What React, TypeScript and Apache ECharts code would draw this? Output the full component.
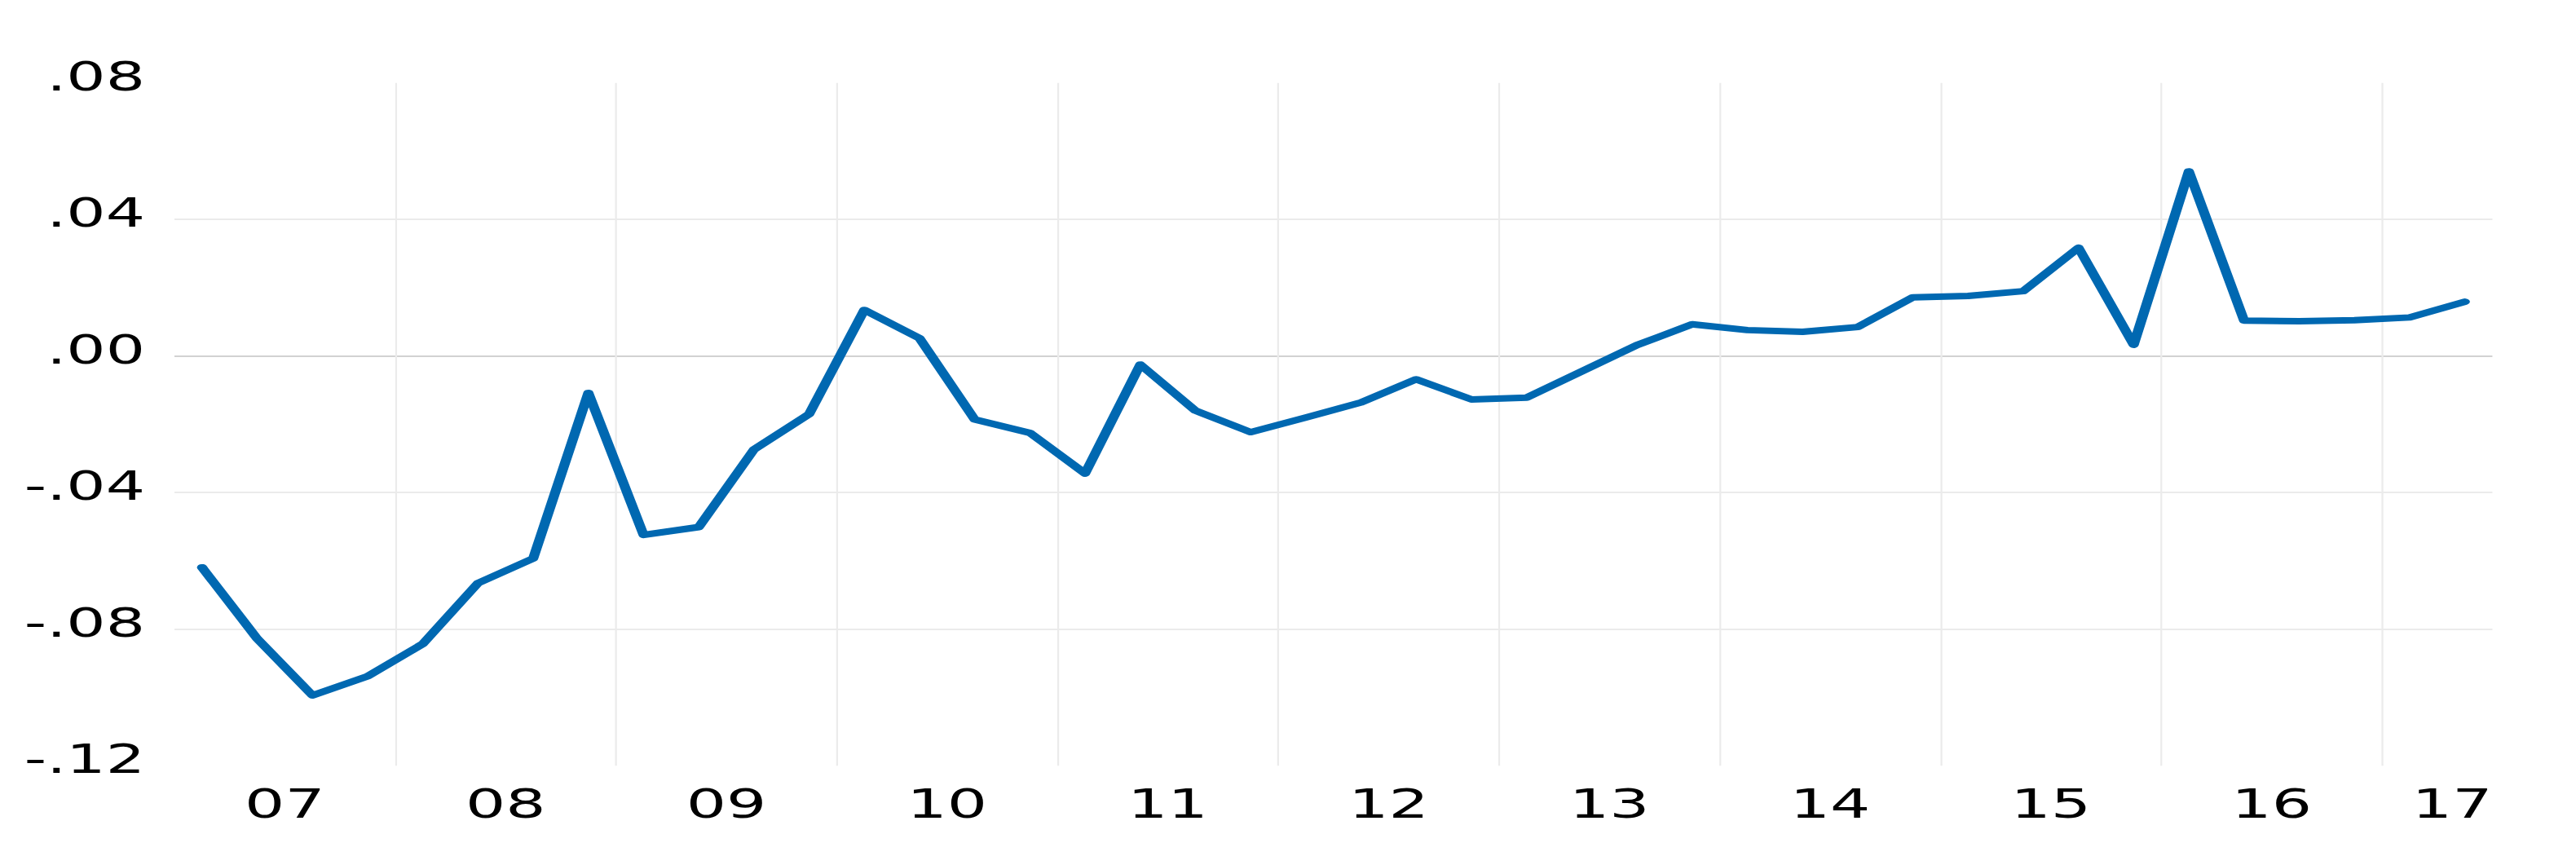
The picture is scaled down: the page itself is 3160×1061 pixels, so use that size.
import React, { useEffect, useRef } from "react";
import * as echarts from "echarts";

// Quarterly observations, 2007Q1 .. 2017Q2
const quarters: string[] = [];
for (let y = 2007; y <= 2017; y++) for (let q = 1; q <= 4; q++) if (!(y === 2017 && q > 2)) quarters.push(`${y}Q${q}`);

const values: number[] = [
  -0.0619, -0.0828, -0.0994, -0.0938,
  -0.0843, -0.0665, -0.0593, -0.0108,
  -0.0524, -0.0501, -0.0274, -0.0170,
  0.0135, 0.0052, -0.0186, -0.0225,
  -0.0344, -0.0025, -0.0160, -0.0223,
  -0.0180, -0.0136, -0.0068, -0.0127,
  -0.0122, -0.0045, 0.0032, 0.0093,
  0.0076, 0.0071, 0.0085, 0.0172,
  0.0176, 0.0190, 0.0317, 0.0033,
  0.0541, 0.0104, 0.0102, 0.0105,
  0.0113, 0.0159,
];

const yearLabels: string[] = ["07", "08", "09", "10", "11", "12", "13", "14", "15", "16", "17"];
const yTicks: number[] = [-0.12, -0.08, -0.04, 0, 0.04, 0.08];

const S = 1.55; // horizontal stretch of the original picture
const W = 3160 / S;
const H = 1061;

function fmtY(v: number): string {
  const n = Math.round(Math.abs(v) * 100);
  const s = "." + String(n).padStart(2, "0");
  return v < -1e-9 ? "-" + s : s;
}

export default function App() {
  const ref = useRef<HTMLDivElement>(null);
  useEffect(() => {
    if (!ref.current) return;
    const chart = echarts.init(ref.current, undefined, { renderer: "svg" });
    const data = values.map((v, i) => [i + 0.5, v]);
    const nQ = quarters.length;
    const xSplitColors: string[] = [];
    for (let t = 0; t <= nQ; t += 4) xSplitColors.push(t === 0 ? "transparent" : "#ebebeb");
    if (nQ % 4 !== 0) xSplitColors.push("transparent");
    const ySplitColors = yTicks.map((t, i) =>
      i === 0 || i === yTicks.length - 1 ? "transparent" : Math.abs(t) < 1e-9 ? "#d2d2d2" : "#ebebeb"
    );
    chart.setOption({
      animation: false,
      backgroundColor: "#ffffff",
      grid: { left: 214 / S, right: W - 3057 / S, top: 101.7, bottom: H - 939.2, containLabel: false },
      xAxis: [
        {
          type: "value",
          min: 0,
          max: nQ,
          interval: 4,
          axisLine: { show: false },
          axisTick: { show: false },
          axisLabel: { show: false },
          splitLine: { show: true, lineStyle: { color: xSplitColors, width: 2.2 / S } },
        },
        {
          type: "value",
          min: 0,
          max: nQ,
          interval: 2,
          position: "bottom",
          axisLine: { show: false },
          axisTick: { show: false },
          splitLine: { show: false },
          axisLabel: {
            show: true,
            margin: 21,
            alignMaxLabel: "right",
            color: "#000",
            fontFamily: "DejaVu Sans",
            fontSize: 50,
            formatter: (v: number) => {
              const r = Math.round(v);
              if ((r - 2) % 4 !== 0) return "";
              const k = (r - 2) / 4;
              return yearLabels[k] ?? "";
            },
          },
        },
      ],
      yAxis: {
        type: "value",
        min: yTicks[0],
        max: yTicks[yTicks.length - 1],
        interval: 0.04,
        axisLine: { show: false },
        axisTick: { show: false },
        axisLabel: {
          color: "#000",
          fontFamily: "DejaVu Sans",
          fontSize: 49,
          margin: 36 / S,
          verticalAlign: "bottom",
          lineHeight: 16,
          formatter: (v: number) => fmtY(v),
        },
        splitLine: { show: true, lineStyle: { color: ySplitColors, width: 2 } },
      },
      series: [
        {
          type: "line",
          xAxisIndex: 0,
          data,
          symbol: "none",
          lineStyle: { color: "#0068b1", width: 8, join: "round", cap: "round" },
        },
      ],
    });
    return () => chart.dispose();
  }, []);
  return (
    <div style={{ position: "fixed", left: 0, top: 0, width: 3160, height: H, overflow: "hidden", background: "#fff" }}>
      <div
        ref={ref}
        style={{ width: W, height: H, transform: `scaleX(${S})`, transformOrigin: "0 0" }}
      />
    </div>
  );
}
